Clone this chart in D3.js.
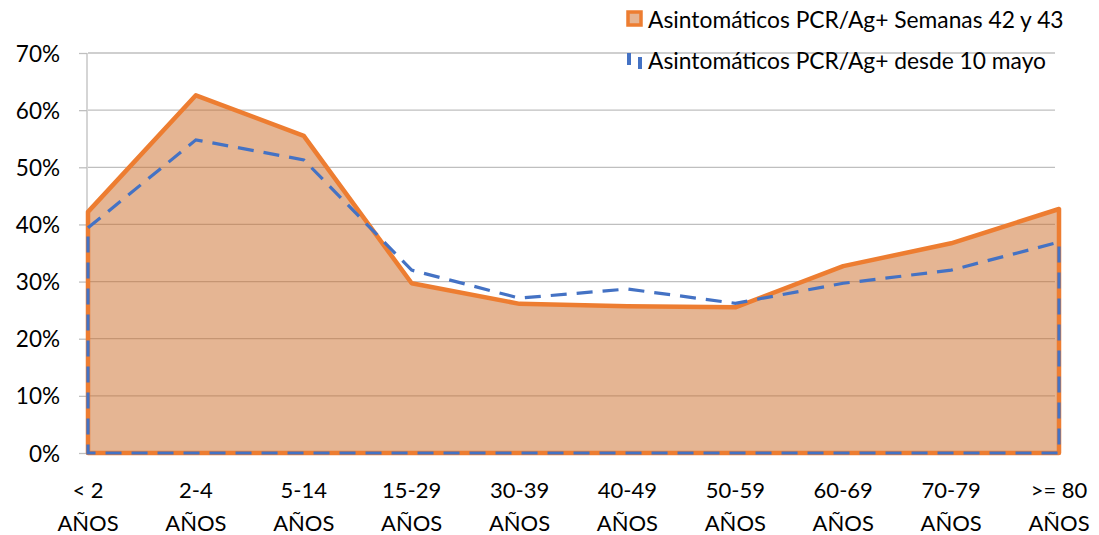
<!DOCTYPE html>
<html><head><meta charset="utf-8">
<script src="https://cdn.jsdelivr.net/npm/d3@7"></script>
<style>body{margin:0;background:#fff}svg{display:block}text{font-family:Lato,"Open Sans",sans-serif;fill:#000}</style>
</head><body><svg id="c" width="1099" height="535"></svg>
<script>
const categories = ["< 2|AÑOS","2-4|AÑOS","5-14|AÑOS","15-29|AÑOS","30-39|AÑOS","40-49|AÑOS","50-59|AÑOS","60-69|AÑOS","70-79|AÑOS",">= 80|AÑOS"];
const semanas = [0.422,0.626,0.555,0.297,0.261,0.257,0.255,0.327,0.367,0.427];
const desdeMayo = [0.394,0.548,0.513,0.320,0.271,0.287,0.262,0.297,0.320,0.369];
const yTicks = [0,0.1,0.2,0.3,0.4,0.5,0.6,0.7];
const seriesNames = ["Asintomáticos PCR/Ag+ Semanas 42 y 43","Asintomáticos PCR/Ag+ desde 10 mayo"];

const svg = d3.select("#c");
const x = d3.scalePoint().domain(categories).range([88,1059]);
const y = d3.scaleLinear().domain([0,0.7]).range([453,53]);

// gridlines
svg.append("g").selectAll("line").data(yTicks.filter(d=>d>0)).join("line")
  .attr("x1",88).attr("x2",1055).attr("y1",d=>y(d)).attr("y2",d=>y(d))
  .attr("stroke","#BFBFBF").attr("stroke-width",1.3);

// y axis
const ya = svg.append("g").attr("transform","translate(87,0)")
  .call(d3.axisLeft(y).tickValues(yTicks).tickFormat(d3.format(".0%")).tickSize(8).tickPadding(19));
ya.select(".domain").attr("stroke","#BFBFBF").attr("stroke-width",1.3).attr("d","M0,"+y(0.7)+"V"+y(0));
ya.selectAll(".tick line").attr("stroke","#BFBFBF").attr("stroke-width",1.3);
ya.selectAll(".tick text").attr("font-size",22.5).attr("font-family","Lato").attr("fill","#000").attr("dy","0.36em");

function closedArea(vals){
  const pts = categories.map((c,i)=>[x(c),y(vals[i])]);
  const line = d3.line();
  return line(pts) + "L" + x(categories[categories.length-1]) + "," + y(0) + "L" + x(categories[0]) + "," + y(0) + "Z";
}

svg.append("path").attr("d",closedArea(semanas))
  .attr("fill","rgba(204,108,40,0.5)").attr("stroke","#ED7D31").attr("stroke-width",4.5)
  .attr("stroke-linejoin","round");
svg.append("path").attr("d",closedArea(desdeMayo))
  .attr("fill","none").attr("stroke","#4472C4").attr("stroke-width",3.2)
  .attr("stroke-dasharray","16,10");

// x labels
const xl = svg.append("g").selectAll("text").data(categories).join("text")
  .attr("x",d=>x(d)).attr("text-anchor","middle").attr("font-size",22);
xl.append("tspan").attr("x",d=>x(d)).attr("y",498).text(d=>d.split("|")[0]);
xl.append("tspan").attr("x",d=>x(d)).attr("y",531).text(d=>d.split("|")[1]);

// legend
const lg = svg.append("g");
lg.append("rect").attr("x",628).attr("y",12).attr("width",13).attr("height",13)
  .attr("fill","#E6B593").attr("stroke","#ED7D31").attr("stroke-width",3.5);
lg.append("text").attr("x",648).attr("y",28).attr("font-size",22.8).text(seriesNames[0]);
lg.append("rect").attr("x",627).attr("y",53).attr("width",4).attr("height",12).attr("fill","#4472C4");
lg.append("rect").attr("x",638).attr("y",57).attr("width",4).attr("height",12).attr("fill","#4472C4");
lg.append("text").attr("x",648).attr("y",69).attr("font-size",22.8).text(seriesNames[1]);
</script></body></html>
